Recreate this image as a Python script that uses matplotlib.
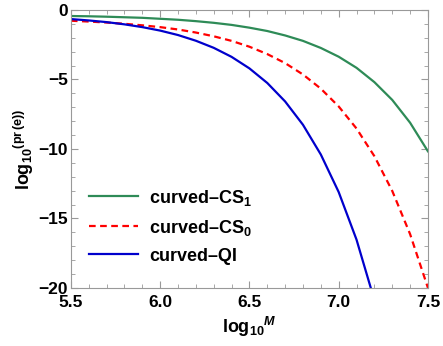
import numpy as np
import matplotlib
matplotlib.use("Agg")
import matplotlib.pyplot as plt
from matplotlib.ticker import MultipleLocator

plt.rcParams['font.family'] = ['Liberation Sans', 'DejaVu Sans']
plt.rcParams['font.weight'] = 'bold'
plt.rcParams['mathtext.fontset'] = 'custom'
plt.rcParams['mathtext.rm'] = 'Liberation Sans:bold'
plt.rcParams['mathtext.bf'] = 'Liberation Sans:bold'
plt.rcParams['mathtext.it'] = 'Liberation Sans:bold:italic'

# data
log_m = [5.5, 5.6, 5.7, 5.8, 5.9, 6.0, 6.1, 6.2, 6.3, 6.4, 6.5,
         6.6, 6.7, 6.8, 6.9, 7.0, 7.1, 7.2, 7.3, 7.4, 7.5]
cs1 = [-0.43, -0.45, -0.48, -0.52, -0.56, -0.63, -0.70, -0.80, -0.92, -1.07, -1.27,
       -1.51, -1.83, -2.22, -2.73, -3.36, -4.16, -5.19, -6.47, -8.11, -10.17]
cs0 = [-0.77, -0.83, -0.90, -0.99, -1.10, -1.23, -1.40, -1.62, -1.89, -2.22, -2.64,
       -3.17, -3.82, -4.64, -5.66, -6.94, -8.53, -10.52, -13.02, -16.13, -20.0]
qi_m = log_m[:18]
qi = [-0.65, -0.75, -0.87, -1.03, -1.23, -1.48, -1.80, -2.21, -2.72, -3.37, -4.20,
      -5.25, -6.58, -8.26, -10.40, -13.10, -16.53, -20.88]

fig = plt.figure(figsize=(4.43, 3.46), dpi=100)
ax = fig.add_axes([0.160, 0.168, 0.806, 0.803])

ax.plot(log_m, cs1, color='#2E8B57', lw=1.6, label=r'curved–CS$_1$')
ax.plot(log_m, cs0, color='#FF0000', lw=1.6, ls=(0, (3, 2)), label=r'curved–CS$_0$')
ax.plot(qi_m, qi, color='#0000CC', lw=1.6, label='curved–QI')

ax.set_xlim(5.5, 7.5)
ax.set_ylim(-20, 0)
ax.xaxis.set_minor_locator(MultipleLocator(0.1))
ax.yaxis.set_minor_locator(MultipleLocator(1))
ax.tick_params(which='both', direction='in', top=True, right=True, color='#999999')
ax.tick_params(which='major', length=5)
ax.tick_params(which='minor', length=3)
ax.tick_params(axis='x', which='major', pad=5)
ax.tick_params(axis='y', which='major', pad=2)
ax.set_xticks([5.5, 6.0, 6.5, 7.0, 7.5], ['5.5', '6.0', '6.5', '7.0', '7.5'],
              fontsize=12.5, fontweight='bold')
ax.set_yticks([0, -5, -10, -15, -20], ['0', '−5', '−10', '−15', '−20'],
              fontsize=12.5, fontweight='bold')
for s in ax.spines.values():
    s.set_color('#999999')

ax.set_xlabel(r'$\mathbf{log}_{\mathbf{10}}{}^{\mathit{M}}$', fontsize=13, labelpad=4)
ax.set_ylabel(r'$\mathbf{log}_{\mathbf{10}}{}^{(\mathbf{pr\,(e)})}$', fontsize=13, labelpad=2)

leg = ax.legend(loc='lower left', bbox_to_anchor=(0.031, 0.058), borderaxespad=0,
                frameon=False, prop={'size': 13, 'weight': 'bold'},
                handlelength=2.7, handletextpad=0.6, labelspacing=0.55)

fig.savefig('out.png', dpi=100)
